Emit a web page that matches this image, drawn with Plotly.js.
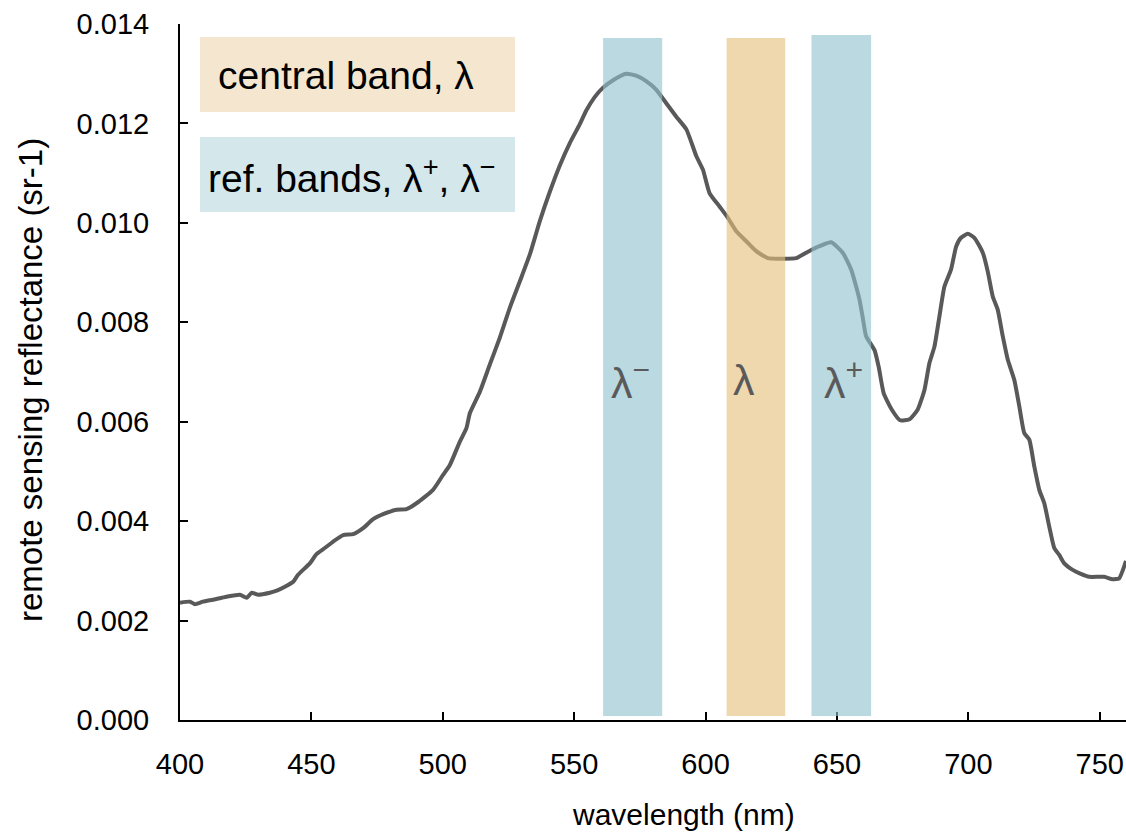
<!DOCTYPE html>
<html>
<head>
<meta charset="utf-8">
<script src="https://cdn.plot.ly/plotly-3.0.1.min.js"></script>
<style>html,body{margin:0;padding:0;background:#fff;}#chart{width:1126px;height:833px;}</style>
</head>
<body>
<div id="chart"></div>
<script>
// wavelength (nm)
const wavelength = [400, 403.8, 405.7, 408.7, 412.5, 417.7, 422.8, 425.4, 427.3, 429.8, 434.2, 436.8, 439.9, 443.1, 444.9, 449.4, 452, 455.1, 458.3, 462.1, 465.9, 469.7, 473.5, 477.3, 482.4, 486.2, 490, 496.3, 500.1, 502.7, 506.5, 509, 510.3, 514.1, 517.9, 521.7, 525.5, 529.3, 533.1, 536.9, 540.7, 544.5, 548.3, 552.1, 554.6, 557.8, 561, 564.8, 569.8, 573.6, 577.4, 581.2, 585, 588.8, 592.7, 596.5, 599, 601.5, 605.3, 608.5, 611.7, 615.5, 619.3, 623.7, 628.1, 634.5, 638.3, 643.3, 647.8, 652.2, 655.4, 657.3, 658.6, 659.8, 661.1, 664.3, 665.9, 667.8, 670.9, 674, 677.6, 680.7, 683.3, 685.2, 687.1, 689, 690.9, 693.4, 695.4, 697.2, 699.8, 702.3, 705.5, 707.4, 709.3, 711.2, 713.1, 715, 717.5, 719.4, 721.3, 723.2, 725.1, 727, 728.9, 730.8, 732.7, 734.6, 736.5, 739.7, 742.8, 746, 751.7, 754.9, 757.4, 759.3, 760];
// remote sensing reflectance (sr-1)
const reflectance = [0.00236, 0.00238, 0.00233, 0.00238, 0.00242, 0.00248, 0.00252, 0.00246, 0.00256, 0.00252, 0.00256, 0.0026, 0.00268, 0.00278, 0.00292, 0.00315, 0.00334, 0.00346, 0.00359, 0.00372, 0.00374, 0.00386, 0.00404, 0.00414, 0.00423, 0.00424, 0.00436, 0.00463, 0.00493, 0.00513, 0.0056, 0.00587, 0.00617, 0.0066, 0.00715, 0.00769, 0.00829, 0.00882, 0.00936, 0.01003, 0.01062, 0.01115, 0.01160, 0.01198, 0.01226, 0.01253, 0.01272, 0.01287, 0.013, 0.01296, 0.01285, 0.01268, 0.01241, 0.01214, 0.01188, 0.01134, 0.01107, 0.0106, 0.01033, 0.0101, 0.00983, 0.00963, 0.00943, 0.00929, 0.00928, 0.00929, 0.0094, 0.00953, 0.00961, 0.0094, 0.00906, 0.00872, 0.00845, 0.0081, 0.00772, 0.00744, 0.0071, 0.00657, 0.00624, 0.00603, 0.00605, 0.00624, 0.00664, 0.00718, 0.00751, 0.00812, 0.00872, 0.00906, 0.00953, 0.0097, 0.00978, 0.0097, 0.0094, 0.00902, 0.00852, 0.00825, 0.00772, 0.00725, 0.00684, 0.00631, 0.00577, 0.00564, 0.0051, 0.00463, 0.00436, 0.00389, 0.00346, 0.00332, 0.00315, 0.00302, 0.00294, 0.00288, 0.00288, 0.00283, 0.00285, 0.00309, 0.0032];

// bands (nm)
const bandNames = ['λ<sup>−</sup>', 'λ', 'λ<sup>+</sup>'];
const bandStart = [561, 608, 640.3];
const bandEnd = [583.5, 630.3, 663];
const bandTop = [0.01372, 0.01372, 0.01378];
const bandKind = ['ref', 'central', 'ref'];
const bandLabelPos = [571.5, 614.6, 652.5];

const legendLabels = ['central band, λ', 'ref. bands, λ<sup>+</sup>, λ<sup>−</sup>'];

const bandFill = {ref: 'rgba(145,194,205,0.62)', central: 'rgba(229,190,124,0.62)'};
const boxFill = ['#F4E6CF', '#D4E7EB'];

const FONT = 'Liberation Sans, Arial, sans-serif';
const L = 180, T = 24, W = 946, H = 696;
const px = x => (x - L) / W;
const py = y => (T + H - y) / H;

const shapes = [];
const annotations = [];
bandStart.forEach((s, i) => {
  shapes.push({type: 'rect', xref: 'x', yref: 'y', x0: s, x1: bandEnd[i], y0: 0.00008, y1: bandTop[i],
    fillcolor: bandFill[bandKind[i]], line: {width: 0}, layer: 'above'});
  annotations.push({xref: 'x', yref: 'y', x: bandLabelPos[i], y: 0.00683, text: bandNames[i], showarrow: false,
    xanchor: 'center', yanchor: 'middle', font: {family: FONT, size: 43, color: '#5a5a5a'}});
});
// legend boxes
const boxTops = [37, 137];
legendLabels.forEach((t, i) => {
  shapes.push({type: 'rect', xref: 'paper', yref: 'paper', x0: px(200), x1: px(515), y0: py(boxTops[i] + 75), y1: py(boxTops[i]),
    fillcolor: boxFill[i], line: {width: 0}, layer: 'below'});
  annotations.push({xref: 'paper', yref: 'paper', x: px(i === 0 ? 216 : 206), y: py(boxTops[i] + 39), text: t, showarrow: false,
    xanchor: 'left', yanchor: 'middle', font: {family: FONT, size: 39, color: '#000'}});
});
// axis titles
annotations.push({xref: 'paper', yref: 'paper', x: px(683), y: py(814), text: 'wavelength (nm)', showarrow: false,
  xanchor: 'center', yanchor: 'middle', font: {family: FONT, size: 30, color: '#000'}});
annotations.push({xref: 'paper', yref: 'paper', x: px(30), y: py(380), text: 'remote sensing reflectance (sr-1)', showarrow: false,
  textangle: -90, xanchor: 'center', yanchor: 'middle', font: {family: FONT, size: 33, color: '#000'}});

const trace = {x: wavelength, y: reflectance, type: 'scatter', mode: 'lines',
  line: {color: '#595959', width: 4, shape: 'spline', smoothing: 0.5}, hoverinfo: 'skip'};

const layout = {
  width: 1126, height: 833,
  margin: {l: L, r: 0, t: T, b: 833 - T - H, pad: 0},
  paper_bgcolor: '#fff', plot_bgcolor: '#fff',
  showlegend: false,
  xaxis: {range: [400, 760], dtick: 50, tick0: 400, ticks: 'inside', ticklen: 8, tickwidth: 2, tickcolor: '#000',
    showline: true, linecolor: '#000', linewidth: 2, showgrid: false, zeroline: false,
    tickfont: {family: FONT, size: 29, color: '#000'}, ticklabelstandoff: 17},
  yaxis: {range: [0, 0.014], dtick: 0.002, tick0: 0, tickformat: '.3f', ticks: 'inside', ticklen: 8, tickwidth: 2, tickcolor: '#000',
    showline: true, linecolor: '#000', linewidth: 2, showgrid: false, zeroline: false,
    tickfont: {family: FONT, size: 29, color: '#000'}, ticklabelstandoff: 23},
  shapes: shapes,
  annotations: annotations
};

Plotly.newPlot('chart', [trace], layout, {displayModeBar: false, staticPlot: true});
</script>
</body>
</html>
